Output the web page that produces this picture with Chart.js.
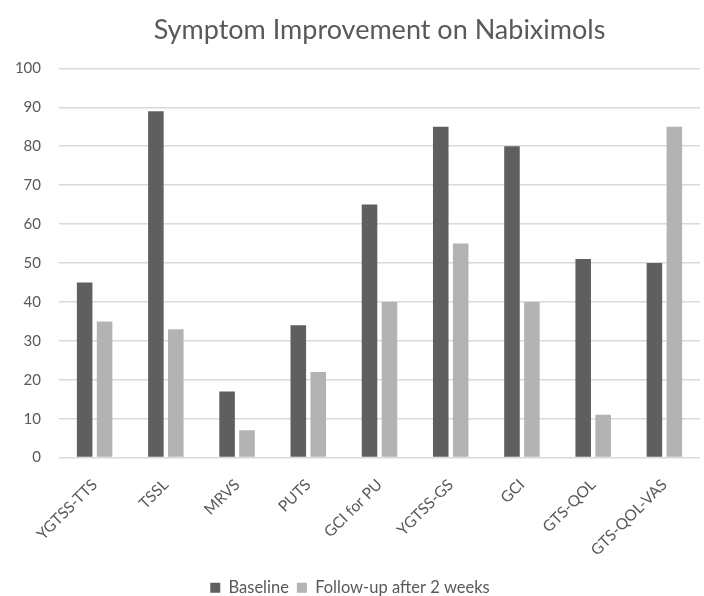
<!DOCTYPE html>
<html>
<head>
  <meta name="viewport" content="width=device-width, initial-scale=1.0">
  <title>Symptom Improvement on Nabiximols</title>
  <script src="https://cdn.jsdelivr.net/npm/chart.js"></script>
  <style>
    html, body {
      margin: 0;
      padding: 0;
      background-color: #ffffff;
    }

    #wrap {
      width: 704px;
      height: 596px;
    }
  </style>
</head>
<body>
  <div id="wrap"><canvas id="myChart"></canvas></div>

  <script>
    const categories = ['YGTSS-TTS', 'TSSL', 'MRVS', 'PUTS', 'GCI for PU', 'YGTSS-GS', 'GCI', 'GTS-QOL', 'GTS-QOL-VAS'];
    const baseline = [45, 89, 17, 34, 65, 85, 80, 51, 50];
    const followUp = [35, 33, 7, 22, 40, 55, 40, 11, 85];
    const yTicks = [0, 10, 20, 30, 40, 50, 60, 70, 80, 90, 100];

    const textColor = '#595959';

    const ctx = document.getElementById('myChart').getContext('2d');
    const chart = new Chart(ctx, {
      type: 'bar',
      data: {
        labels: categories,
        datasets: [{
          label: 'Baseline',
          data: baseline,
          backgroundColor: '#5f5f5f',
          categoryPercentage: 0.56,
          barPercentage: 0.78
        }, {
          label: 'Follow-up after 2 weeks',
          data: followUp,
          backgroundColor: '#b3b3b3',
          categoryPercentage: 0.56,
          barPercentage: 0.78
        }]
      },
      options: {
        responsive: true,
        maintainAspectRatio: false,
        animation: false,
        layout: {
          padding: { top: 14, right: 4, bottom: -10, left: 0 }
        },
        plugins: {
          title: {
            display: true,
            fullSize: false,
            text: 'Symptom Improvement on Nabiximols',
            color: textColor,
            font: { family: 'Lato', size: 27, weight: 'normal' },
            padding: { top: 0, bottom: 22 }
          },
          legend: {
            display: true,
            position: 'bottom',
            labels: {
              color: textColor,
              font: { family: 'Lato', size: 16.5 },
              boxWidth: 10,
              boxHeight: 10,
              padding: 8
            }
          },
          tooltip: { enabled: false }
        },
        scales: {
          x: {
            grid: { display: false },
            border: { display: false },
            afterFit: (scale) => {
              scale.height += 2;
            },
            ticks: {
              color: textColor,
              font: { family: 'Lato', size: 15.5 },
              maxRotation: 45,
              minRotation: 45,
              padding: 10
            }
          },
          y: {
            min: 0,
            max: 100,
            afterBuildTicks: (scale) => {
              scale.ticks = yTicks.map(v => ({ value: v }));
            },
            afterFit: (scale) => {
              scale.width = 59;
            },
            grid: {
              color: '#d9d9d9',
              lineWidth: 1.5,
              drawTicks: false
            },
            border: { display: false },
            ticks: {
              color: textColor,
              font: { family: 'Lato', size: 15 },
              padding: 18
            }
          }
        }
      }
    });
  </script>
</body>
</html>
